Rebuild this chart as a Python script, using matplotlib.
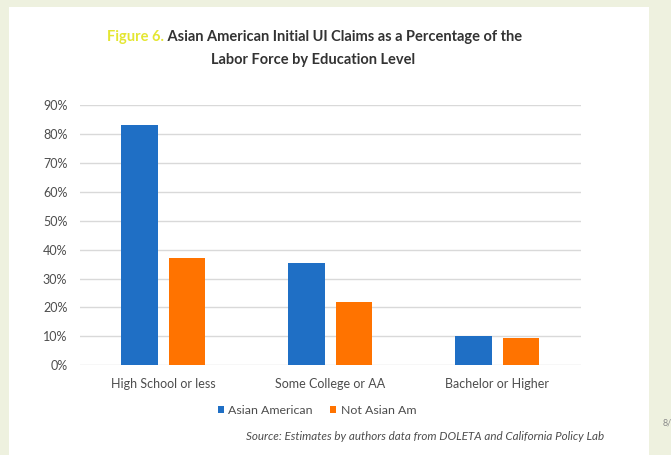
import matplotlib
matplotlib.use("Agg")
import matplotlib.pyplot as plt
from matplotlib.patches import Rectangle
import numpy as np

# data
categories = ["High School or less", "Some College or AA", "Bachelor or Higher"]
asian_am = [83.0, 35.5, 10.2]
not_asian_am = [37.0, 22.0, 9.3]
series_names = ["Asian American", "Not Asian Am"]
yticks = [0, 10, 20, 30, 40, 50, 60, 70, 80, 90]

BLUE = "#1f6fc5"
ORANGE = "#ff7300"
TXT = "#4d4d4d"

plt.rcParams["font.family"] = ["Lato", "DejaVu Sans"]

fig = plt.figure(figsize=(6.71, 4.55), dpi=100)
fig.patch.set_facecolor("#eef1df")
# white slide panel
fig.patches.append(Rectangle((9 / 671, 0), 640 / 671, 1 - 7 / 455,
                             transform=fig.transFigure, facecolor="white",
                             edgecolor="none", zorder=-10))

ax = fig.add_axes([79.8 / 671, 89.7 / 455, 501 / 671, 260.3 / 455])
ax.set_facecolor("none")

x = np.arange(len(categories))
w = 0.219
off = 0.142
ax.bar(x - off, asian_am, w, color=BLUE, label=series_names[0], zorder=3)
ax.bar(x + off, not_asian_am, w, color=ORANGE, label=series_names[1], zorder=3)

ax.set_xlim(-0.5, 2.5)
ax.set_ylim(0, 90)
ax.set_yticks(yticks)
ax.set_yticklabels([f"{t}%" for t in yticks], fontsize=9, color=TXT)
ax.set_xticks(x)
ax.set_xticklabels(categories, fontsize=9, color=TXT)
ax.tick_params(length=0)
ax.tick_params(axis="y", pad=9)
ax.tick_params(axis="x", pad=9)
ax.grid(axis="y", color="#d9d9d9", linewidth=1, zorder=0)
for s in ax.spines.values():
    s.set_visible(False)

# title, two colours on the first line
t1 = fig.text(107 / 671, 1 - 37 / 455, "Figure 6.", fontsize=10.5,
              fontweight="bold", color="#e4e632", va="center", ha="left")
fig.canvas.draw()
ax.annotate(" Asian American Initial UI Claims as a Percentage of the",
            xy=(1, 0), xycoords=t1, va="bottom", ha="left",
            fontsize=10.5, fontweight="bold", color="#333333",
            annotation_clip=False)
fig.text(313 / 671, 1 - 60 / 455, "Labor Force by Education Level",
         fontsize=10.5, fontweight="bold", color="#333333",
         va="center", ha="center")

fig.legend(loc="center", bbox_to_anchor=(317 / 671, 1 - 410 / 455), ncol=2,
           frameon=False, fontsize=8.9, handlelength=0.5, handleheight=0.5,
           handletextpad=0.35, columnspacing=1.4, labelcolor=TXT)

fig.text(604 / 671, 1 - 437 / 455,
         "Source: Estimates by authors data from DOLETA and California Policy Lab",
         fontsize=8.4, style="italic", color=TXT, ha="right", va="center")
fig.text(663 / 671, 1 - 423 / 455, "8/", fontsize=6.5, color="#8a8a8a",
         ha="left", va="center")

fig.savefig("out.png", dpi=100, facecolor=fig.get_facecolor())
